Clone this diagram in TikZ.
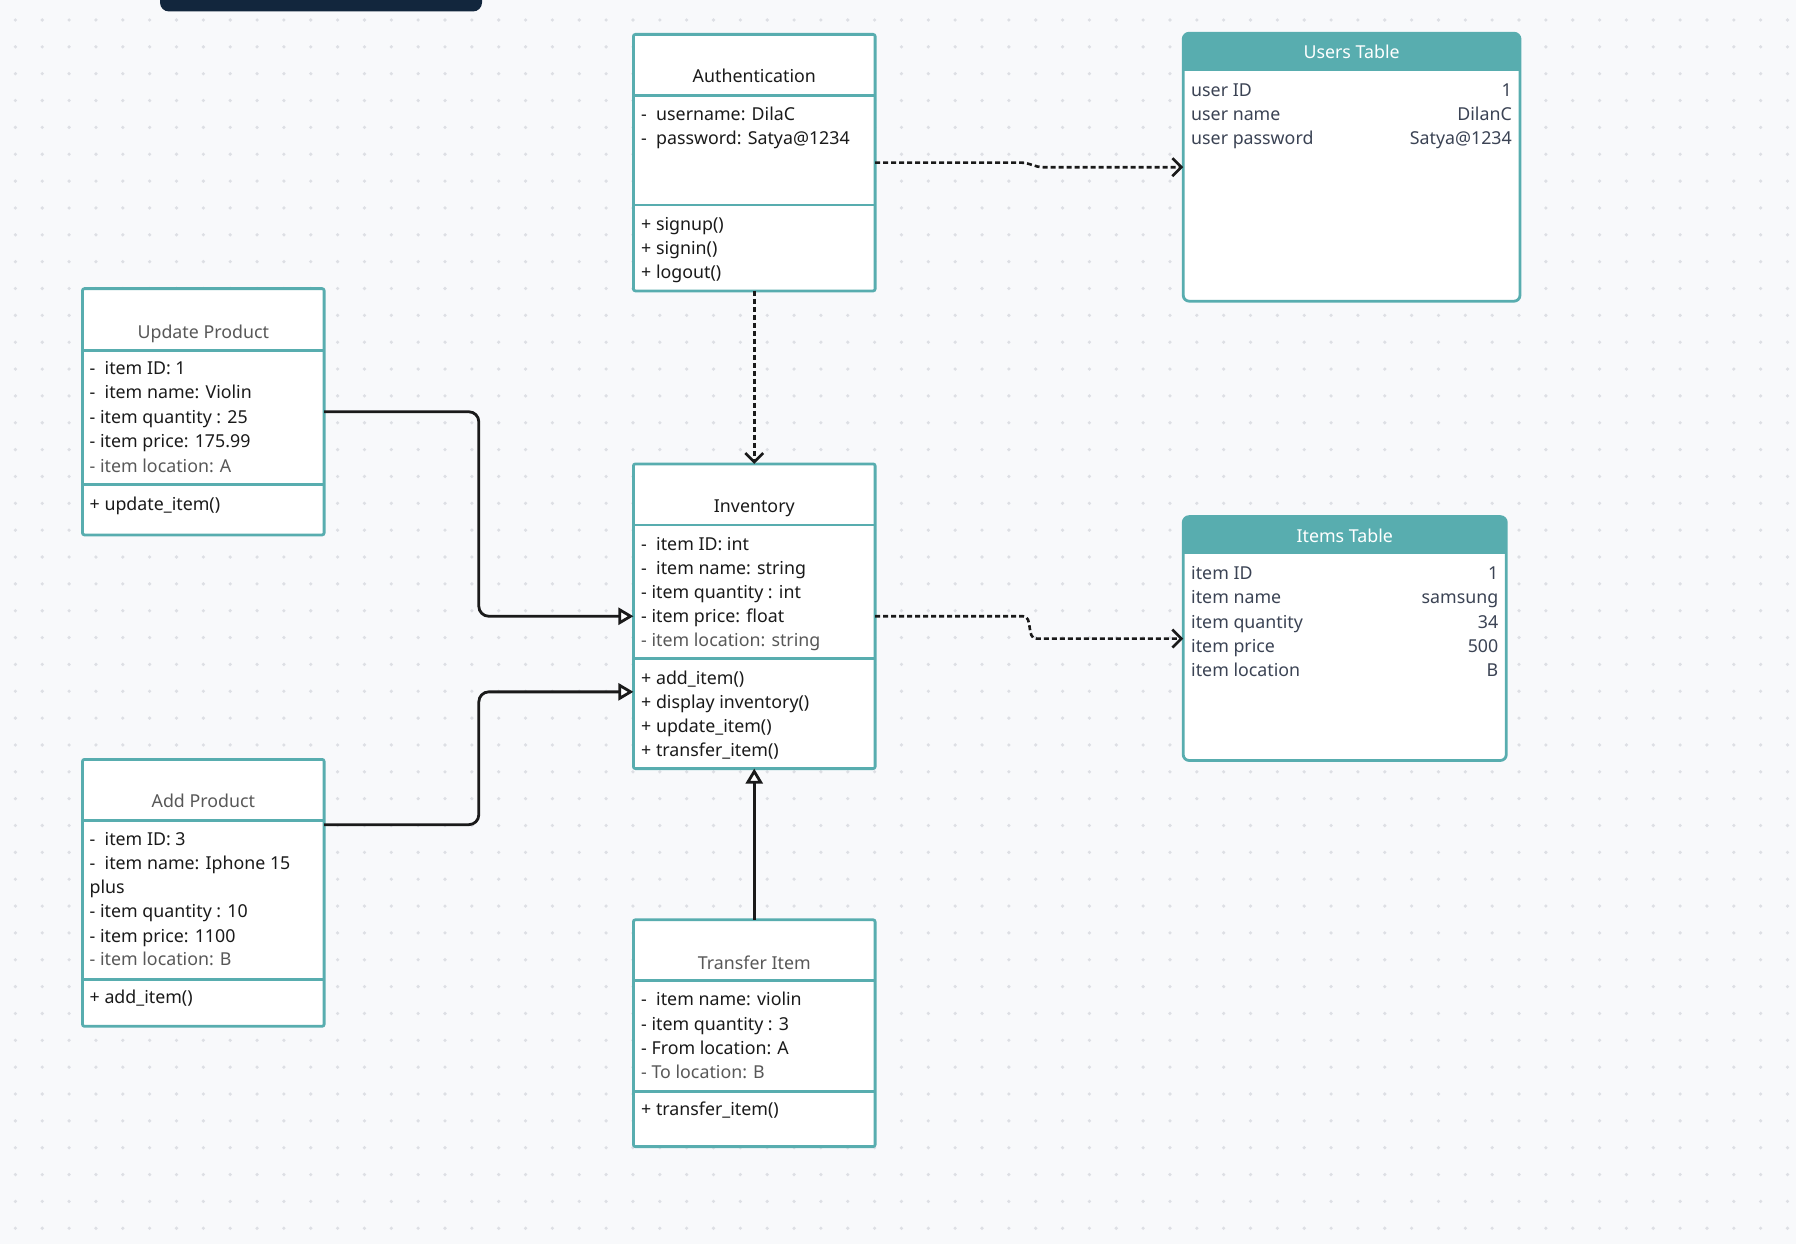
\documentclass[tikz,border=0pt]{standalone}
\usepackage{fontspec}
\setmainfont{Noto Sans}
\usetikzlibrary{arrows.meta}
\definecolor{canvas}{HTML}{F8F9FB}
\definecolor{dotgray}{HTML}{DDDFE4}
\definecolor{umlteal}{HTML}{58ADAF}
\definecolor{ink}{HTML}{1A1A1A}
\definecolor{fade}{HTML}{585858}
\definecolor{slate}{HTML}{3B4354}
\definecolor{navy}{HTML}{12263D}
\tikzset{
  classbox/.style={draw=umlteal, line width=2.8pt, fill=white, rounded corners=2pt, outer sep=0pt, inner sep=0pt, anchor=north west},
  tablebox/.style={classbox, rounded corners=6pt},
  sepline/.style={umlteal, line width=2.8pt},
  rowtext/.style={anchor=base west, inner sep=0pt, text=ink, font=\fontsize{17.8pt}{21pt}\selectfont},
  fadetext/.style={rowtext, text=fade},
  valtext/.style={rowtext, anchor=base east, text=slate},
  cellname/.style={rowtext, text=slate},
  classname/.style={anchor=base, inner sep=0pt, text=ink, font=\fontsize{17.8pt}{21pt}\selectfont},
  headname/.style={classname, text=white},
  link/.style={draw=ink, line width=2.8pt, rounded corners=10pt, -{Triangle[open, fill=white, length=15pt, width=17pt]}},
  dashlink/.style={draw=ink, line width=2.6pt, dash pattern=on 5pt off 3pt, -{Straight Barb[length=9pt, width=18pt]}}
}
\begin{document}
\begin{tikzpicture}[x=1pt, y=-1pt]
\useasboundingbox (0,0) rectangle (1796,1244);
\fill[canvas] (0,0) rectangle (1796,1244);
\foreach \i in {0,...,66} \foreach \j in {0,...,45} \fill[dotgray] (15.4+26.85*\i, 20+26.85*\j) circle (1.8pt);
\fill[navy, rounded corners=9pt] (160,-20) rectangle (482,11.5);

% class boxes
\node[classbox, minimum width=241.7pt, minimum height=256.5pt] (auth) at (633.4,34.4) {};
\draw[sepline] ([yshift=-61pt]auth.north west) -- ([yshift=-61pt]auth.north east);
\draw[sepline] ([yshift=-170.6pt]auth.north west) -- ([yshift=-170.6pt]auth.north east);
\node[classname] (auth-t) at (754.3,82.7) {Authentication};
\foreach \t [count=\i] in {-\ \ username: DilaC, -\ \ password: Satya@1234}
  \node[rowtext] (auth-a\i) at (641, 96.4+24.1*\i) {\t};
\foreach \t [count=\i] in {+ signup(), + signin(), + logout()}
  \node[rowtext] (auth-m\i) at (641, 206.4+24.1*\i) {\t};

\node[classbox, minimum width=241.6pt, minimum height=246.3pt] (upd) at (82.5,288.6) {};
\draw[sepline] ([yshift=-61.9pt]upd.north west) -- ([yshift=-61.9pt]upd.north east);
\draw[sepline] ([yshift=-195.9pt]upd.north west) -- ([yshift=-195.9pt]upd.north east);
\node[classname, text=fade] (upd-t) at (203.3,338.2) {Update Product};
\foreach \t [count=\i] in {-\ \ item ID: 1, -\ \ item name: Violin, - item quantity : 25, - item price: 175.99}
  \node[rowtext] (upd-a\i) at (89.5, 350.7+24.1*\i) {\t};
\node[fadetext] (upd-a5) at (89.5,472.2) {- item location: A};
\node[rowtext] (upd-m1) at (89.5,510) {+ update\_item()};

\node[classbox, minimum width=241.7pt, minimum height=304.7pt] (inv) at (633.4,463.9) {};
\draw[sepline] ([yshift=-61pt]inv.north west) -- ([yshift=-61pt]inv.north east);
\draw[sepline] ([yshift=-194.7pt]inv.north west) -- ([yshift=-194.7pt]inv.north east);
\node[classname] (inv-t) at (754.3,512.3) {Inventory};
\foreach \t [count=\i] in {-\ \ item ID: int, -\ \ item name: string, - item quantity : int, - item price: float}
  \node[rowtext] (inv-a\i) at (641, 525.9+24.1*\i) {\t};
\node[fadetext] (inv-a5) at (641,646.3) {- item location: string};
\foreach \t [count=\i] in {+ add\_item(), + display inventory(), + update\_item(), + transfer\_item()}
  \node[rowtext] (inv-m\i) at (641, 660+24.1*\i) {\t};

\node[classbox, minimum width=241.6pt, minimum height=266.9pt] (add) at (82.5,759.4) {};
\draw[sepline] ([yshift=-61pt]add.north west) -- ([yshift=-61pt]add.north east);
\draw[sepline] ([yshift=-219.9pt]add.north west) -- ([yshift=-219.9pt]add.north east);
\node[classname, text=fade] (add-t) at (203.3,807.8) {Add Product};
\foreach \t [count=\i] in {-\ \ item ID: 3, -\ \ item name: Iphone 15, plus, - item quantity : 10, - item price: 1100}
  \node[rowtext] (add-a\i) at (89.5, 821.5+24.1*\i) {\t};
\node[fadetext] (add-a6) at (89.5,965.8) {- item location: B};
\node[rowtext] (add-m1) at (89.5,1003.6) {+ add\_item()};

\node[classbox, minimum width=241.7pt, minimum height=226.8pt] (trans) at (633.4,919.8) {};
\draw[sepline] ([yshift=-61pt]trans.north west) -- ([yshift=-61pt]trans.north east);
\draw[sepline] ([yshift=-171.8pt]trans.north west) -- ([yshift=-171.8pt]trans.north east);
\node[classname, text=fade] (trans-t) at (754.3,969.3) {Transfer Item};
\foreach \t [count=\i] in {-\ \ item name: violin, - item quantity : 3, - From location: A}
  \node[rowtext] (trans-a\i) at (641, 981.8+24.1*\i) {\t};
\node[fadetext] (trans-a4) at (641,1078.1) {- To location: B};
\node[rowtext] (trans-m1) at (641,1115.9) {+ transfer\_item()};

% tables
\node[tablebox, minimum width=336.8pt, minimum height=268pt] (users) at (1183.2,33.2) {};
\begin{scope}
\clip[rounded corners=6pt] (users.north west) rectangle (users.south east);
\fill[umlteal] (users.north west) rectangle ([yshift=-37.8pt]users.north east);
\end{scope}
\node[headname] (users-t) at (1351.6,58.7) {Users Table};
\foreach \k/\v [count=\i] in {user ID/1, user name/DilanC, user password/Satya@1234} {
  \node[cellname] (users-k\i) at (1191, 72.4+24.1*\i) {\k};
  \node[valtext] (users-v\i) at (1512, 72.4+24.1*\i) {\v};
}

\node[tablebox, minimum width=323.1pt, minimum height=243.9pt] (items) at (1183.2,516.6) {};
\begin{scope}
\clip[rounded corners=6pt] (items.north west) rectangle (items.south east);
\fill[umlteal] (items.north west) rectangle ([yshift=-37.8pt]items.north east);
\end{scope}
\node[headname] (items-t) at (1344.7,542) {Items Table};
\foreach \k/\v [count=\i] in {item ID/1, item name/samsung, item quantity/34, item price/500, item location/B} {
  \node[cellname] (items-k\i) at (1191, 555.7+24.1*\i) {\k};
  \node[valtext] (items-v\i) at (1498.5, 555.7+24.1*\i) {\v};
}

% connectors
\draw[dashlink] (auth.east) -- ([xshift=146pt]auth.east) to[out=0, in=180] ([xshift=-140pt]users.west) -- (users.west);
\draw[dashlink] (auth.south) -- (inv.north);
\draw[dashlink] (inv.east) -- ([xshift=148pt]inv.east) to[out=0, in=180] ([xshift=-147pt]items.west) -- (items.west);
\draw[link] (upd.east) -- ++(154.7,0) |- (inv.west);
\draw[link] ([yshift=-65.3pt]add.north east) -- ++(154.7,0) |- ([yshift=-75.6pt]inv.west);
\draw[link] (trans.north) -- (inv.south);
\end{tikzpicture}
\end{document}
